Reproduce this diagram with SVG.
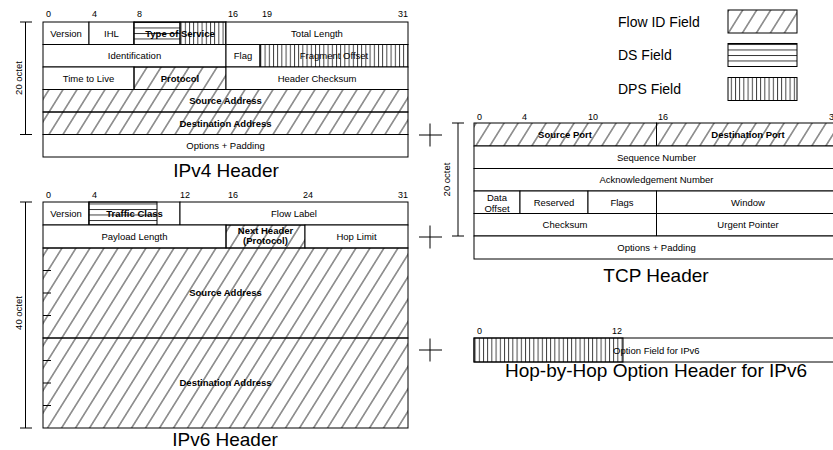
<svg xmlns="http://www.w3.org/2000/svg" width="833" height="450" viewBox="0 0 833 450">
<defs>
<style>
.c{fill:#fff;stroke:#000;stroke-width:1}
.h{fill:url(#flow);stroke:#000;stroke-width:1}
.d{fill:url(#ds);stroke:#000;stroke-width:1}
.p{fill:url(#dps);stroke:#000;stroke-width:1}
.ln{stroke:#000;stroke-width:1;fill:none}
text{font-family:"Liberation Sans",Arial,Helvetica,sans-serif;fill:#000}
.t{font-size:9.5px;text-anchor:middle}
.b{font-weight:bold}
.n{font-size:9px}
.e{text-anchor:end}
.ttl{font-size:19px;text-anchor:middle}
.lg{font-size:14px}
</style>
<pattern id="flow" patternUnits="userSpaceOnUse" width="14" height="10" patternTransform="skewX(-32)">
<line x1="7" y1="-1" x2="7" y2="11" stroke="#000" stroke-width="0.8"/>
</pattern>
<pattern id="ds" patternUnits="userSpaceOnUse" width="10" height="5.5">
<line x1="-1" y1="0.5" x2="11" y2="0.5" stroke="#000" stroke-width="0.8"/>
</pattern>
<pattern id="dps" patternUnits="userSpaceOnUse" width="4.2" height="10">
<line x1="0.5" y1="-1" x2="0.5" y2="11" stroke="#000" stroke-width="0.8"/>
</pattern>
</defs>
<rect width="833" height="450" fill="#fff"/>

<!-- IPv4 header -->
<g id="ipv4-header">
<g id="ipv4-bits">
<text class="n" x="46" y="17">0</text>
<text class="n" x="92" y="17">4</text>
<text class="n" x="137" y="17">8</text>
<text class="n" x="228" y="17">16</text>
<text class="n" x="262" y="17">19</text>
<text class="n e" x="408" y="17">31</text>
</g>
<g id="ipv4-version"><rect class="c" x="43" y="22" width="46" height="22.5"/><text class="t" x="66" y="36.6">Version</text></g>
<g id="ipv4-ihl"><rect class="c" x="89" y="22" width="45" height="22.5"/><text class="t" x="111.5" y="36.6">IHL</text></g>
<g id="ipv4-tos"><rect class="c" x="134" y="22" width="92" height="22.5"/><rect class="d" x="134" y="22" width="46" height="22.5"/><rect class="p" x="180" y="22" width="46" height="22.5"/><text class="t b" x="180" y="36.6">Type of Service</text></g>
<g id="ipv4-total-length"><rect class="c" x="226" y="22" width="182" height="22.5"/><text class="t" x="317" y="36.6">Total Length</text></g>
<g id="ipv4-identification"><rect class="c" x="43" y="44.5" width="183" height="22.5"/><text class="t" x="134.5" y="59.1">Identification</text></g>
<g id="ipv4-flag"><rect class="c" x="226" y="44.5" width="34" height="22.5"/><text class="t" x="243" y="59.1">Flag</text></g>
<g id="ipv4-fragment-offset"><rect class="p" x="260" y="44.5" width="148" height="22.5"/><text class="t" x="334" y="59.1">Fragment Offset</text></g>
<g id="ipv4-ttl"><rect class="c" x="43" y="67" width="91" height="22.5"/><text class="t" x="88.5" y="81.6">Time to Live</text></g>
<g id="ipv4-protocol"><rect class="h" x="134" y="67" width="92" height="22.5"/><text class="t b" x="180" y="81.6">Protocol</text></g>
<g id="ipv4-checksum"><rect class="c" x="226" y="67" width="182" height="22.5"/><text class="t" x="317" y="81.6">Header Checksum</text></g>
<g id="ipv4-source"><rect class="h" x="43" y="89.5" width="365" height="22.5"/><text class="t b" x="225.5" y="104.1">Source Address</text></g>
<g id="ipv4-destination"><rect class="h" x="43" y="112" width="365" height="22.5"/><text class="t b" x="225.5" y="126.6">Destination Address</text></g>
<g id="ipv4-options"><rect class="c" x="43" y="134.5" width="365" height="22.5"/><text class="t" x="225.5" y="149.1">Options + Padding</text></g>
<text class="ttl" x="226" y="177">IPv4 Header</text>
</g>

<!-- Legend -->
<g id="legend">
<g id="legend-flow"><text class="lg" x="618" y="26.5">Flow ID Field</text><rect class="h" x="728" y="10" width="69" height="23"/></g>
<g id="legend-ds"><text class="lg" x="618" y="60">DS Field</text><rect class="d" x="728" y="43.5" width="69" height="23"/></g>
<g id="legend-dps"><text class="lg" x="618" y="94">DPS Field</text><rect class="p" x="728" y="77.5" width="69" height="23"/></g>
</g>

<!-- TCP header -->
<g id="tcp-header">
<g id="tcp-bits">
<text class="n" x="477" y="120">0</text>
<text class="n" x="522" y="120">4</text>
<text class="n" x="588" y="120">10</text>
<text class="n" x="658" y="120">16</text>
<text class="n e" x="839" y="120">31</text>
</g>
<g id="tcp-source-port"><rect class="h" x="474" y="123" width="182.5" height="23"/><text class="t b" x="565" y="137.9">Source Port</text></g>
<g id="tcp-destination-port"><rect class="h" x="656.5" y="123" width="182.5" height="23"/><text class="t b" x="748" y="137.9">Destination Port</text></g>
<g id="tcp-sequence"><rect class="c" x="474" y="146" width="365" height="22.5"/><text class="t" x="656.5" y="160.6">Sequence Number</text></g>
<g id="tcp-ack"><rect class="c" x="474" y="168.5" width="365" height="22.5"/><text class="t" x="656.5" y="183.1">Acknowledgement Number</text></g>
<g id="tcp-data-offset"><rect class="c" x="474" y="191" width="46" height="22.5"/><text class="t" x="497" y="200.8">Data</text><text class="t" x="497" y="211.5">Offset</text></g>
<g id="tcp-reserved"><rect class="c" x="520" y="191" width="68" height="22.5"/><text class="t" x="554" y="205.6">Reserved</text></g>
<g id="tcp-flags"><rect class="c" x="588" y="191" width="68.5" height="22.5"/><text class="t" x="622" y="205.6">Flags</text></g>
<g id="tcp-window"><rect class="c" x="656.5" y="191" width="182.5" height="22.5"/><text class="t" x="748" y="205.6">Window</text></g>
<g id="tcp-checksum"><rect class="c" x="474" y="213.5" width="182.5" height="22.5"/><text class="t" x="565" y="228.1">Checksum</text></g>
<g id="tcp-urgent"><rect class="c" x="656.5" y="213.5" width="182.5" height="22.5"/><text class="t" x="748" y="228.1">Urgent Pointer</text></g>
<g id="tcp-options"><rect class="c" x="474" y="236" width="365" height="23"/><text class="t" x="656.5" y="250.9">Options + Padding</text></g>
<text class="ttl" x="656" y="282">TCP Header</text>
</g>

<!-- IPv6 header -->
<g id="ipv6-header">
<g id="ipv6-bits">
<text class="n" x="46" y="198">0</text>
<text class="n" x="92" y="198">4</text>
<text class="n" x="180" y="198">12</text>
<text class="n" x="228" y="198">16</text>
<text class="n" x="303" y="198">24</text>
<text class="n e" x="408" y="198">31</text>
</g>
<g id="ipv6-version"><rect class="c" x="43" y="202" width="46" height="23"/><text class="t" x="66" y="216.9">Version</text></g>
<g id="ipv6-traffic-class"><rect class="c" x="89" y="202" width="91" height="23"/><rect class="d" x="89" y="202" width="68" height="23"/><text class="t b" x="134.5" y="216.9">Traffic Class</text></g>
<g id="ipv6-flow-label"><rect class="c" x="180" y="202" width="228" height="23"/><text class="t" x="294" y="216.9">Flow Label</text></g>
<g id="ipv6-payload-length"><rect class="c" x="43" y="225" width="183" height="23"/><text class="t" x="134.5" y="239.9">Payload Length</text></g>
<g id="ipv6-next-header"><rect class="h" x="226" y="225" width="79" height="23"/><text class="t b" x="265.5" y="233.6">Next Header</text><text class="t b" x="265.5" y="244">(Protocol)</text></g>
<g id="ipv6-hop-limit"><rect class="c" x="305" y="225" width="103" height="23"/><text class="t" x="356.5" y="239.9">Hop Limit</text></g>
<g id="ipv6-source"><rect class="h" x="43" y="248" width="365" height="90"/>
<path class="ln" d="M43 270.5H51M43 293H51M43 315.5H51"/>
<text class="t b" x="225.5" y="296.4">Source Address</text></g>
<g id="ipv6-destination"><rect class="h" x="43" y="338" width="365" height="90"/>
<path class="ln" d="M43 360.5H51M43 383H51M43 405.5H51"/>
<text class="t b" x="225.5" y="386.4">Destination Address</text></g>
<text class="ttl" x="225" y="446">IPv6 Header</text>
</g>

<!-- Hop-by-Hop option header -->
<g id="hop-by-hop-header">
<text class="n" x="477" y="334">0</text>
<text class="n" x="612" y="334">12</text>
<g id="hbh-option-field"><rect class="c" x="474" y="338" width="365" height="24"/><rect class="p" x="474" y="338" width="149" height="24"/><text class="t" x="613" y="353.5" style="text-anchor:start">Option Field for IPv6</text></g>
<text class="ttl" x="656" y="377">Hop-by-Hop Option Header for IPv6</text>
</g>

<!-- dimension brackets and registration marks -->
<g id="connectors">
<g id="ipv4-size"><path class="ln" d="M25.5 22V134.5M20 22H32M20 134.5H32"/><text class="t" transform="translate(21.5 78) rotate(-90)">20 octet</text></g>
<g id="tcp-size"><path class="ln" d="M458 123V236M452 123H464M452 236H464"/><text class="t" transform="translate(450 179.5) rotate(-90)">20 octet</text></g>
<g id="ipv6-size"><path class="ln" d="M25.5 202V428M20 202H32M20 428H32"/><text class="t" transform="translate(21.5 313) rotate(-90)">40 octet</text></g>
<path class="ln" d="M419 135H442M430 123.5V146.5"/>
<path class="ln" d="M419 237H442M430 225.5V248.5"/>
<path class="ln" d="M419 350H442M430 338.5V361.5"/>
</g>
</svg>
